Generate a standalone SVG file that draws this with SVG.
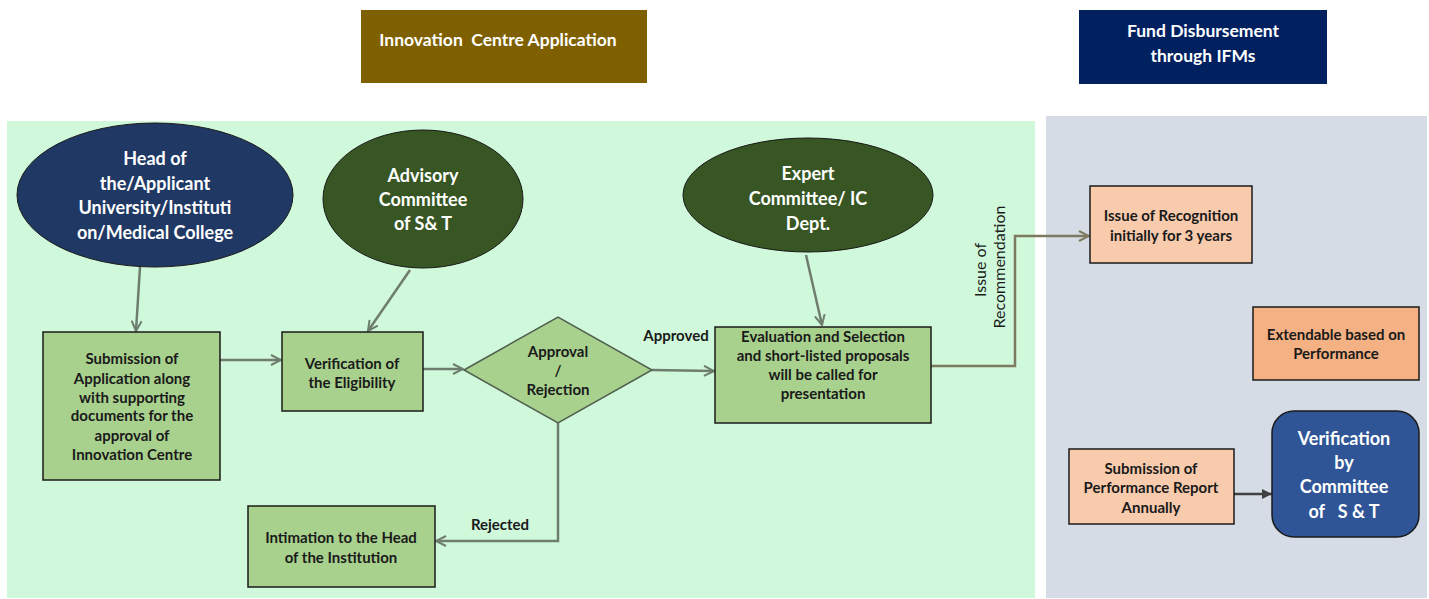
<svg xmlns="http://www.w3.org/2000/svg" width="1429" height="599" viewBox="0 0 1429 599">
<style>
text{font-family:Lato,"Liberation Sans",sans-serif;font-weight:bold;text-anchor:middle;dominant-baseline:central}
.w{fill:#ffffff}
.d{fill:#1a1a1a;font-size:15px}
.e{font-size:18px}
.n{fill:#1a1a1a;font-weight:normal;font-size:16px}
.box{fill:#a9d18e;stroke:#1a1a1a;stroke-width:1.5}
.pk{fill:#f8cbad;stroke:#1a1a1a;stroke-width:1.5}
.ell{stroke:#1a1a1a;stroke-width:1}
.c{fill:none;stroke:#6e7d6e;stroke-width:2.5}
</style>
<defs>
<marker id="v" viewBox="0 0 12 12" refX="11" refY="6" markerWidth="12" markerHeight="12" markerUnits="userSpaceOnUse" orient="auto">
<path d="M1,1 L11,6 L1,11" fill="none" stroke="#6e7d6e" stroke-width="2"/>
</marker>
<marker id="v2" viewBox="0 0 12 12" refX="11" refY="6" markerWidth="12" markerHeight="12" markerUnits="userSpaceOnUse" orient="auto">
<path d="M1,1 L11,6 L1,11" fill="none" stroke="#7d7a62" stroke-width="2"/>
</marker>
<marker id="f" viewBox="0 0 10 10" refX="10" refY="5" markerWidth="10" markerHeight="10" markerUnits="userSpaceOnUse" orient="auto">
<path d="M0,0 L10,5 L0,10 Z" fill="#404040"/>
</marker>
</defs>
<rect width="1429" height="599" fill="#ffffff"/>
<rect x="7" y="121" width="1028" height="477" fill="#d0f8da"/>
<rect x="1046" y="116" width="381" height="482" fill="#d6dce5"/>

<g id="hdr-innovation">
<rect x="361" y="10" width="286" height="73" fill="#7f6000"/>
<text class="w" x="498" y="39" font-size="17.5" xml:space="preserve">Innovation  Centre Application</text>
</g>
<g id="hdr-fund">
<rect x="1079" y="10" width="248" height="74" fill="#002060"/>
<text class="w" x="1203" y="30" font-size="17.5">Fund Disbursement</text>
<text class="w" x="1203" y="55" font-size="17.5">through IFMs</text>
</g>

<g id="connectors">
<line class="c" x1="140" y1="267" x2="136" y2="331" marker-end="url(#v)"/>
<line class="c" x1="410" y1="270" x2="368" y2="331" marker-end="url(#v)"/>
<line class="c" x1="806" y1="255" x2="822" y2="325" marker-end="url(#v)"/>
<line class="c" x1="220" y1="360" x2="281" y2="360" marker-end="url(#v)"/>
<line class="c" x1="423" y1="369" x2="463" y2="369" marker-end="url(#v)"/>
<line class="c" x1="652" y1="370" x2="714" y2="371" marker-end="url(#v)"/>
<polyline class="c" points="558,423 558,541 436,541" marker-end="url(#v)"/>
<polyline fill="none" stroke="#7d7a62" stroke-width="2.5" points="931,366 1015,366 1015,236 1089,236" marker-end="url(#v2)"/>
<line stroke="#404040" stroke-width="2.5" x1="1234" y1="494" x2="1272" y2="494" marker-end="url(#f)"/>
<text class="d" x="676" y="335">Approved</text>
<text class="d" x="500" y="524">Rejected</text>
<text class="n" transform="translate(979,270) rotate(-90)">Issue of</text>
<text class="n" transform="translate(998,267) rotate(-90)">Recommendation</text>
</g>

<g id="head">
<ellipse class="ell" cx="155" cy="195" rx="138" ry="72" fill="#1f3864"/>
<text class="w e" x="155" y="158">Head of</text>
<text class="w e" x="155" y="183">the/Applicant</text>
<text class="w e" x="155" y="207">University/Instituti</text>
<text class="w e" x="155" y="232">on/Medical College</text>
</g>
<g id="advisory">
<ellipse class="ell" cx="423" cy="199" rx="100" ry="69" fill="#375623"/>
<text class="w e" x="423" y="175">Advisory</text>
<text class="w e" x="423" y="199">Committee</text>
<text class="w e" x="423" y="223">of S&amp; T</text>
</g>
<g id="expert">
<ellipse class="ell" cx="808" cy="195" rx="125" ry="57" fill="#375623"/>
<text class="w e" x="808" y="173">Expert</text>
<text class="w e" x="808" y="198">Committee/ IC</text>
<text class="w e" x="808" y="223">Dept.</text>
</g>
<g id="submission">
<rect class="box" x="43" y="332" width="177" height="148"/>
<text class="d" x="132" y="358">Submission of</text>
<text class="d" x="132" y="378">Application along</text>
<text class="d" x="132" y="397">with supporting</text>
<text class="d" x="132" y="415">documents for the</text>
<text class="d" x="132" y="435">approval of</text>
<text class="d" x="132" y="454">Innovation Centre</text>
</g>
<g id="verification">
<rect class="box" x="282" y="332" width="141" height="79"/>
<text class="d" x="352" y="363">Verification of</text>
<text class="d" x="352" y="382">the Eligibility</text>
</g>
<g id="decision">
<polygon points="464,370 558,317 652,370 558,423" fill="#a9d18e" stroke="#4f5f4f" stroke-width="1.5"/>
<text class="d" x="558" y="351">Approval</text>
<text class="d" x="558" y="370">/</text>
<text class="d" x="558" y="389">Rejection</text>
</g>
<g id="evaluation">
<rect class="box" x="715" y="327" width="216" height="96"/>
<text class="d" x="823" y="336">Evaluation and Selection</text>
<text class="d" x="823" y="355">and short-listed proposals</text>
<text class="d" x="823" y="374">will be called for</text>
<text class="d" x="823" y="393">presentation</text>
</g>
<g id="intimation">
<rect class="box" x="248" y="506" width="187" height="81"/>
<text class="d" x="341" y="537">Intimation to the Head</text>
<text class="d" x="341" y="557">of the Institution</text>
</g>
<g id="recognition">
<rect class="pk" x="1090" y="186" width="162" height="77"/>
<text class="d" x="1171" y="215">Issue of Recognition</text>
<text class="d" x="1171" y="235">initially for 3 years</text>
</g>
<g id="extendable">
<rect x="1253" y="307" width="166" height="73" fill="#f4b183" stroke="#1a1a1a" stroke-width="1.5"/>
<text class="d" x="1336" y="334">Extendable based on</text>
<text class="d" x="1336" y="353">Performance</text>
</g>
<g id="performance">
<rect class="pk" x="1069" y="449" width="165" height="75"/>
<text class="d" x="1151" y="468">Submission of</text>
<text class="d" x="1151" y="487">Performance Report</text>
<text class="d" x="1151" y="507">Annually</text>
</g>
<g id="committee">
<rect x="1272" y="411" width="147" height="126" rx="22" fill="#2f5597" stroke="#1a1a1a" stroke-width="1.5"/>
<text class="w" font-size="18" x="1344" y="438">Verification</text>
<text class="w" font-size="18" x="1344" y="462">by</text>
<text class="w" font-size="18" x="1344" y="486">Committee</text>
<text class="w" font-size="18" x="1344" y="511" xml:space="preserve">of   S &amp; T</text>
</g>
</svg>
